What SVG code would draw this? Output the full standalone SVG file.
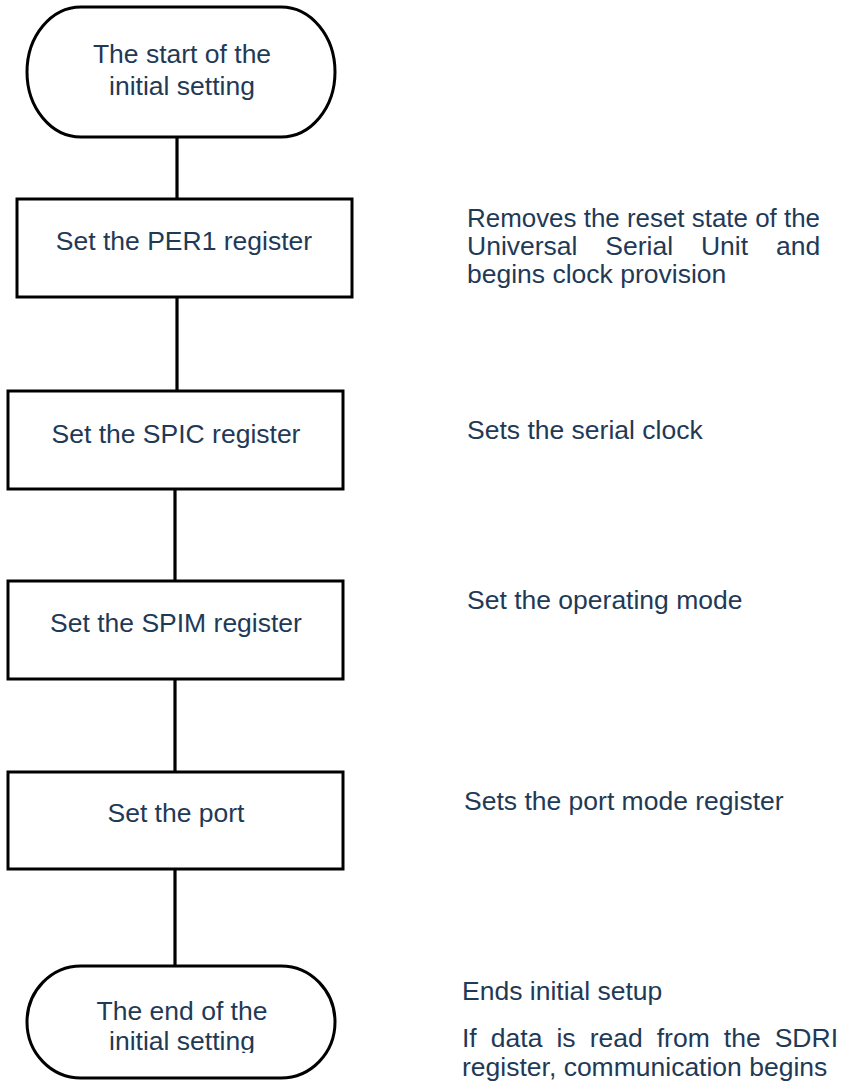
<svg xmlns="http://www.w3.org/2000/svg" width="843" height="1084" viewBox="0 0 843 1084">
<style>
  .shape { fill: #ffffff; stroke: #000000; stroke-width: 3; }
  .conn { stroke: #000000; stroke-width: 3.2; fill: none; }
  text { font-family: "Liberation Sans", Arial, sans-serif; font-size: 26.5px; fill: #1F3A56; }
  .c { text-anchor: middle; }
</style>
<defs>
  <clipPath id="endclip"><rect x="0" y="966" width="400" height="87"/></clipPath>
</defs>
<rect x="0" y="0" width="843" height="1084" fill="#ffffff"/>
<g id="connectors">
  <line class="conn" x1="177" y1="137" x2="177" y2="199"/>
  <line class="conn" x1="177" y1="297" x2="177" y2="391"/>
  <line class="conn" x1="175" y1="489" x2="175" y2="581"/>
  <line class="conn" x1="175" y1="679" x2="175" y2="772"/>
  <line class="conn" x1="175" y1="869" x2="175" y2="967"/>
</g>
<g id="start">
  <rect class="shape" x="27" y="7" width="308" height="130" rx="54" ry="65"/>
  <text class="c" x="182" y="63">The start of the</text>
  <text class="c" x="182" y="95">initial setting</text>
</g>
<g id="per1">
  <rect class="shape" x="17" y="199" width="335" height="98"/>
  <text class="c" x="184" y="250">Set the PER1 register</text>
</g>
<g id="spic">
  <rect class="shape" x="8" y="391" width="335" height="98"/>
  <text class="c" x="176" y="443">Set the SPIC register</text>
</g>
<g id="spim">
  <rect class="shape" x="8" y="581" width="335" height="98"/>
  <text class="c" x="176" y="632">Set the SPIM register</text>
</g>
<g id="port">
  <rect class="shape" x="8" y="772" width="335" height="97"/>
  <text class="c" x="176" y="822">Set the port</text>
</g>
<g id="end">
  <rect class="shape" x="27" y="966" width="308" height="112" rx="54" ry="56"/>
  <text class="c" x="182" y="1020">The end of the</text>
  <text class="c" x="182" y="1050" clip-path="url(#endclip)">initial setting</text>
</g>
<g id="notes">
  <text x="467" y="227" textLength="353" lengthAdjust="spacingAndGlyphs">Removes the reset state of the</text>
  <text x="467" y="255" word-spacing="20.5">Universal Serial Unit and</text>
  <text x="467" y="283">begins clock provision</text>
  <text x="467" y="439">Sets the serial clock</text>
  <text x="467" y="609">Set the operating mode</text>
  <text x="464" y="810">Sets the port mode register</text>
  <text x="462" y="1000">Ends initial setup</text>
  <text x="462" y="1047" word-spacing="6.7">If data is read from the SDRI</text>
  <text x="462" y="1076">register, communication begins</text>
</g>
</svg>
